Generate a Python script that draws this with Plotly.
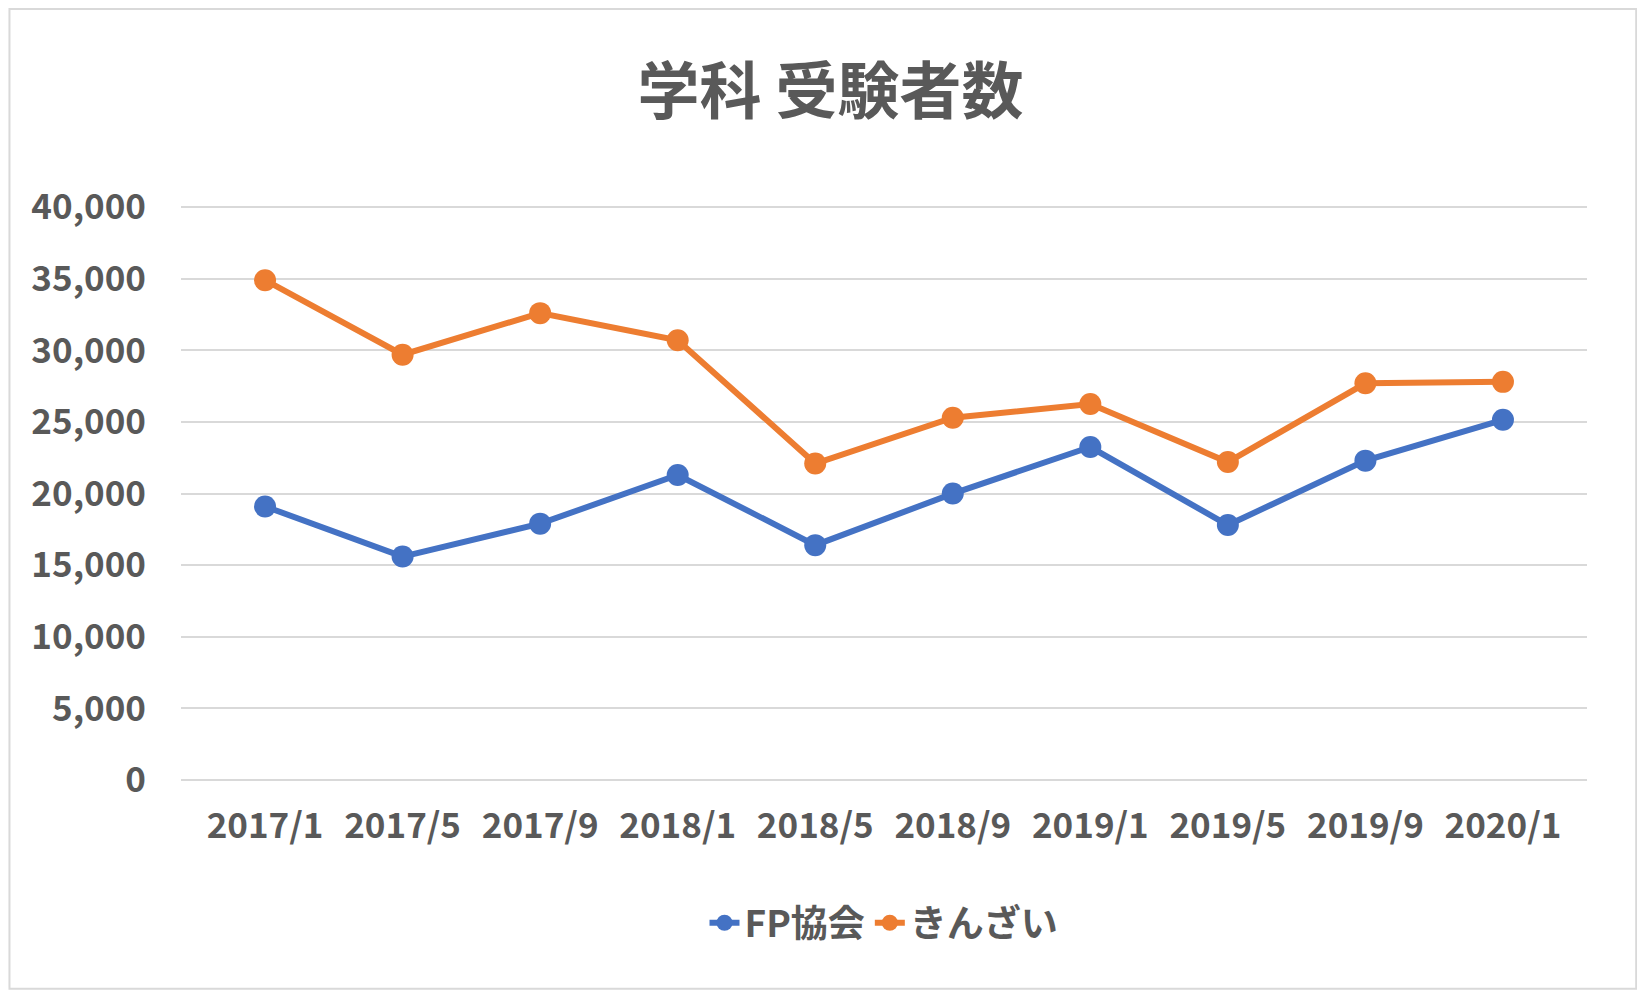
import plotly.graph_objects as go

categories = ["2017/1","2017/5","2017/9","2018/1","2018/5","2018/9","2019/1","2019/5","2019/9","2020/1"]
fp_kyokai = [19100,15600,17900,21300,16400,20000,23250,17800,22300,25150]
kinzai = [34900,29700,32600,30700,22100,25300,26250,22200,27700,27800]
y_ticks = [0,5000,10000,15000,20000,25000,30000,35000,40000]

font = "Noto Sans CJK JP"
grey = "#595959"
fig = go.Figure()
fig.add_trace(go.Scatter(x=categories, y=fp_kyokai, name="FP協会", mode="lines+markers",
                         line=dict(color="#4472C4", width=6), marker=dict(size=22, color="#4472C4")))
fig.add_trace(go.Scatter(x=categories, y=kinzai, name="きんざい", mode="lines+markers",
                         line=dict(color="#ED7D31", width=6), marker=dict(size=22, color="#ED7D31")))
fig.update_layout(
    width=1645, height=997, plot_bgcolor="white", paper_bgcolor="white",
    margin=dict(l=173, r=66, t=197, b=225),
    title=dict(text="学科 受験者数", x=0.5, xanchor="center", y=0.915, yanchor="middle",
               font=dict(family=font, size=62, color=grey, weight="bold")),
    font=dict(family=font, size=35, color=grey, weight="bold"),
    xaxis=dict(type="category", showgrid=False, showline=False, ticks="", ticklabelstandoff=22,
               tickfont=dict(size=35, weight="bold")),
    yaxis=dict(range=[0,40150], tickvals=y_ticks, tickformat=",", gridcolor="#D9D9D9", gridwidth=2,
               zeroline=True, zerolinecolor="#D9D9D9", zerolinewidth=2, ticks="", ticklabelstandoff=34,
               tickfont=dict(size=35, weight="bold")),
    legend=dict(orientation="h", x=0.5, xanchor="center", y=-0.249, yanchor="middle",
                font=dict(size=37, weight="bold")),
    shapes=[dict(type="rect", xref="paper", yref="paper", x0=-0.122, x1=1.035, y0=-0.363, y1=1.341,
                 line=dict(color="#D9D9D9", width=2))],
)
fig.write_html("out.html")
